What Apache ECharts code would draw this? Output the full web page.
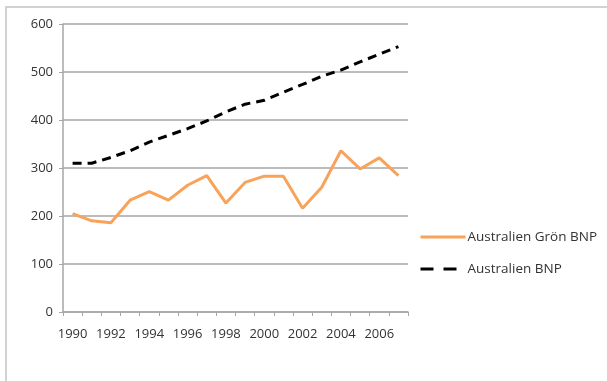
<!DOCTYPE html>
<html>
<head>
<meta charset="utf-8">
<script src="https://cdn.jsdelivr.net/npm/echarts@6/dist/echarts.min.js"></script>
<style>
  html, body { margin: 0; padding: 0; background: #fff; }
  #chart { width: 607px; height: 381px; }
</style>
</head>
<body>
<div id="chart"></div>
<script>
var years = ['1990', '1991', '1992', '1993', '1994', '1995', '1996', '1997', '1998',
    '1999', '2000', '2001', '2002', '2003', '2004', '2005', '2006', '2007'];
var gronBnp = [205, 190, 186, 233, 251, 233, 264, 284, 227, 270, 283, 283, 216, 260, 336, 298, 321, 284];
var bnp = [310, 310, 322, 336, 354, 368, 382, 398, 417, 433, 441, 458, 474, 491, 504, 521, 537, 553];
var yTicks = [0, 100, 200, 300, 400, 500, 600];

var chart = echarts.init(document.getElementById('chart'));

var option = {
    backgroundColor: '#fff',
    animation: false,
    textStyle: { fontFamily: 'Open Sans' },
    graphic: [{
        type: 'rect',
        shape: { x: 6, y: 7, width: 720, height: 420 },
        style: { fill: 'none', stroke: '#c4c4c4', lineWidth: 1.5 }
    }],
    grid: { left: 63, right: 199, top: 24, bottom: 69 },
    legend: {
        orient: 'vertical',
        left: 419,
        top: 230,
        padding: 0,
        itemWidth: 45,
        itemHeight: 14,
        itemGap: 18,
        itemStyle: { opacity: 0 },
        lineStyle: { width: 3 },
        textStyle: { color: '#333', fontSize: 13.5, fontFamily: 'Open Sans', padding: [0, 0, 0, -3] },
        data: [
            { name: 'Australien Grön BNP' },
            { name: 'Australien BNP', lineStyle: { width: 3, type: [13, 10] } }
        ]
    },
    xAxis: {
        type: 'category',
        data: years,
        boundaryGap: true,
        axisLine: { lineStyle: { color: '#a6a6a6', width: 1.5 } },
        axisTick: { show: true, length: 4, interval: 0, lineStyle: { color: '#a6a6a6' } },
        axisLabel: { interval: 1, color: '#333', fontSize: 13, margin: 16 }
    },
    yAxis: {
        type: 'value',
        min: yTicks[0],
        max: yTicks[yTicks.length - 1],
        interval: 100,
        axisLine: { show: true, lineStyle: { color: '#a6a6a6', width: 1.5 } },
        axisTick: { show: true, length: 4, lineStyle: { color: '#a6a6a6' } },
        axisLabel: { color: '#333', fontSize: 13, margin: 10 },
        splitLine: { lineStyle: { color: '#a6a6a6', width: 1.5 } }
    },
    series: [
        {
            name: 'Australien Grön BNP',
            type: 'line',
            data: gronBnp,
            symbol: 'none',
            color: '#f9a35a',
            lineStyle: { color: '#f9a35a', width: 3 }
        },
        {
            name: 'Australien BNP',
            type: 'line',
            data: bnp,
            symbol: 'none',
            color: '#000',
            lineStyle: { color: '#000', width: 3, type: [9, 6] }
        }
    ]
};
chart.setOption(option);
</script>
</body>
</html>
